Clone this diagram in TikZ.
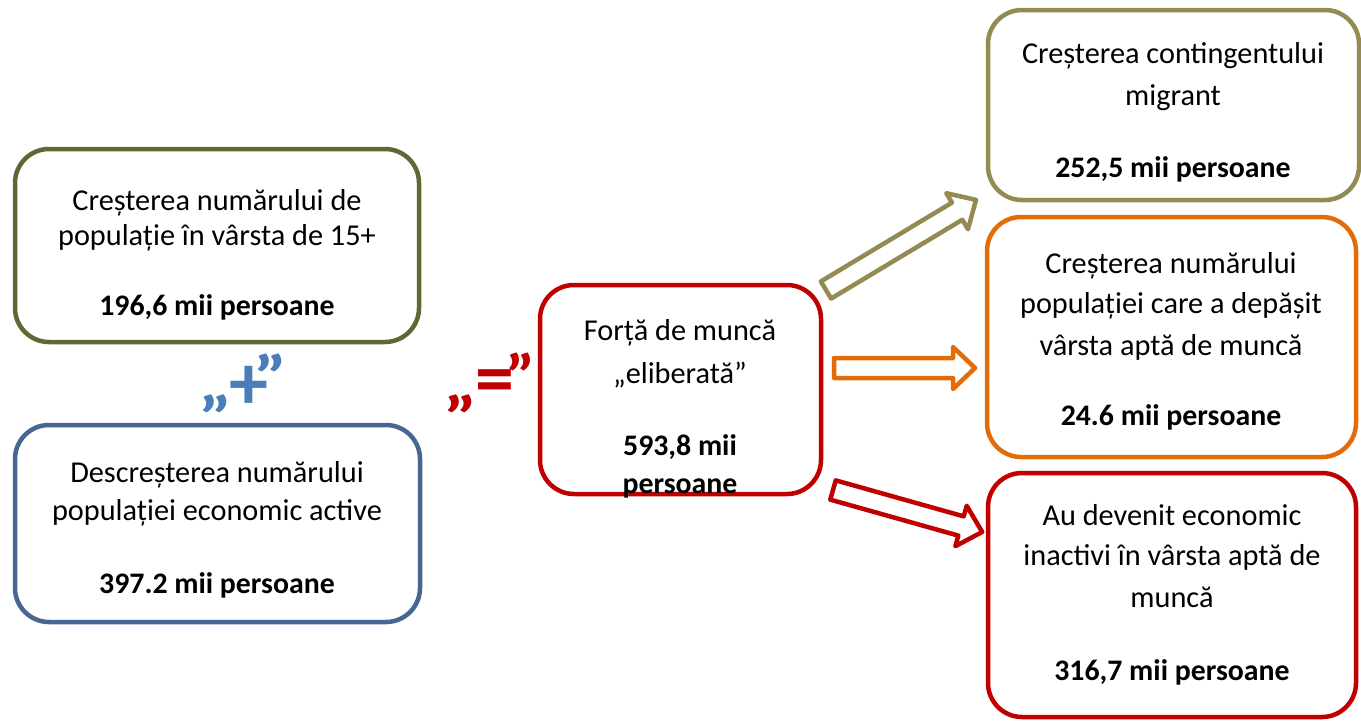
\documentclass[tikz,border=0pt]{standalone}
\usepackage{fontspec}
\setmainfont{Carlito}
\definecolor{olivec}{RGB}{94,104,50}
\definecolor{bluec}{RGB}{70,102,148}
\definecolor{redc}{RGB}{192,0,0}
\definecolor{khakic}{RGB}{148,138,84}
\definecolor{orangec}{RGB}{227,108,10}
\definecolor{plusc}{RGB}{74,126,187}
\newcommand\fs{\fontsize{30.3}{35}\selectfont}
\newcommand\fsb{\fontsize{29.8}{35}\selectfont\bfseries}
\newcommand\fop{\fontsize{78}{78}\selectfont\bfseries}
\newcommand\fq{\fontsize{60}{60}\selectfont\bfseries}
\newcommand\blockarrow[5]{% name, colour, tail coordinate, angle, length
  \draw[barrow=#2, shift={(#3)}, rotate=#4] (0pt,-10pt) -- ({#5pt-22pt},-10pt) -- ({#5pt-22pt},-21pt)
    -- (#5pt,0pt) -- ({#5pt-22pt},21pt) -- ({#5pt-22pt},10pt) -- (0pt,10pt) -- cycle;}
\begin{document}
\begin{tikzpicture}[x=1pt,y=-1pt,
  box/.style={draw=#1, line width=4.5pt, rounded corners=34pt, fill=white, inner sep=0pt},
  txt/.style={anchor=base, inner sep=0pt, font=\fs},
  num/.style={anchor=base, inner sep=0pt, font=\fsb},
  opq/.style={inner sep=0pt, text=#1, font=\fq},
  opm/.style={inner sep=0pt, text=#1, font=\fop},
  barrow/.style={draw=#1, line width=4.5pt, fill=white, line join=round}]
\useasboundingbox (0,0) rectangle (1361,721);
% boxes
\node[box=olivec, minimum width=404pt, minimum height=193pt] (bA) at (217,245.5) {};
\node[box=bluec, minimum width=405pt, minimum height=197pt] (bB) at (217.5,523.5) {};
\node[box=redc, minimum width=281pt, minimum height=209pt] (bC) at (680.5,389.5) {};
\node[box=khakic, minimum width=371pt, minimum height=190pt] (bD) at (1173.5,105) {};
\node[box=orangec, minimum width=369pt, minimum height=240pt] (bE) at (1171.5,337) {};
\node[box=redc, minimum width=368pt, minimum height=244pt] (bF) at (1172,595) {};
% texts A
\node[txt] (tA1) at (217,210) {Creșterea numărului de};
\node[txt] (tA2) at (217,245) {populație în vârsta de 15+};
\node[num] (tA3) at (217,315) {196,6 mii persoane};
% texts B
\node[txt] (tB1) at (217,482) {Descreșterea numărului};
\node[txt] (tB2) at (217,520) {populației economic active};
\node[num] (tB3) at (217,593) {397.2 mii persoane};
% texts C
\node[txt] (tC1) at (680,340) {Forță de muncă};
\node[txt] (tC2) at (680,383) {„eliberată”};
\node[num] (tC3) at (680,455) {593,8 mii};
\node[num] (tC4) at (680,493) {persoane};
% texts D
\node[txt] (tD1) at (1173,63) {Creșterea contingentului};
\node[txt] (tD2) at (1173,105) {migrant};
\node[num] (tD3) at (1173,177) {252,5 mii persoane};
% texts E
\node[txt] (tE1) at (1171,273) {Creșterea numărului};
\node[txt] (tE2) at (1171,313) {populației care a depășit};
\node[txt] (tE3) at (1171,355) {vârsta aptă de muncă};
\node[num] (tE4) at (1171,425) {24.6 mii persoane};
% texts F
\node[txt] (tF1) at (1172,525) {Au devenit economic};
\node[txt] (tF2) at (1172,565) {inactivi în vârsta aptă de};
\node[txt] (tF3) at (1172,607) {muncă};
\node[num] (tF4) at (1172,680) {316,7 mii persoane};
% operators
\node[opq=plusc] (plusL) at (215.5,404) {\scalebox{1.3}[1]{„}};
\node[opm=plusc] (plusM) at (249,387.5) {+};
\node[opq=plusc] (plusR) at (270,375.5) {\scalebox{1.3}[1]{”}};
\node[opq=redc] (eqL) at (460,404) {\scalebox{1.3}[1]{„}};
\node[opm=redc] (eqM) at (494.5,387.5) {=};
\node[opq=redc] (eqR) at (521,375) {\scalebox{1.15}[1]{”}};
% block arrows
\coordinate (a1t) at (826,290);
\coordinate (a2t) at (834,368);
\coordinate (a3t) at (833,490);
\blockarrow{a1}{khakic}{a1t}{31}{175}
\blockarrow{a2}{orangec}{a2t}{0}{141}
\blockarrow{a3}{redc}{a3t}{-15.7}{155}
\end{tikzpicture}
\end{document}
